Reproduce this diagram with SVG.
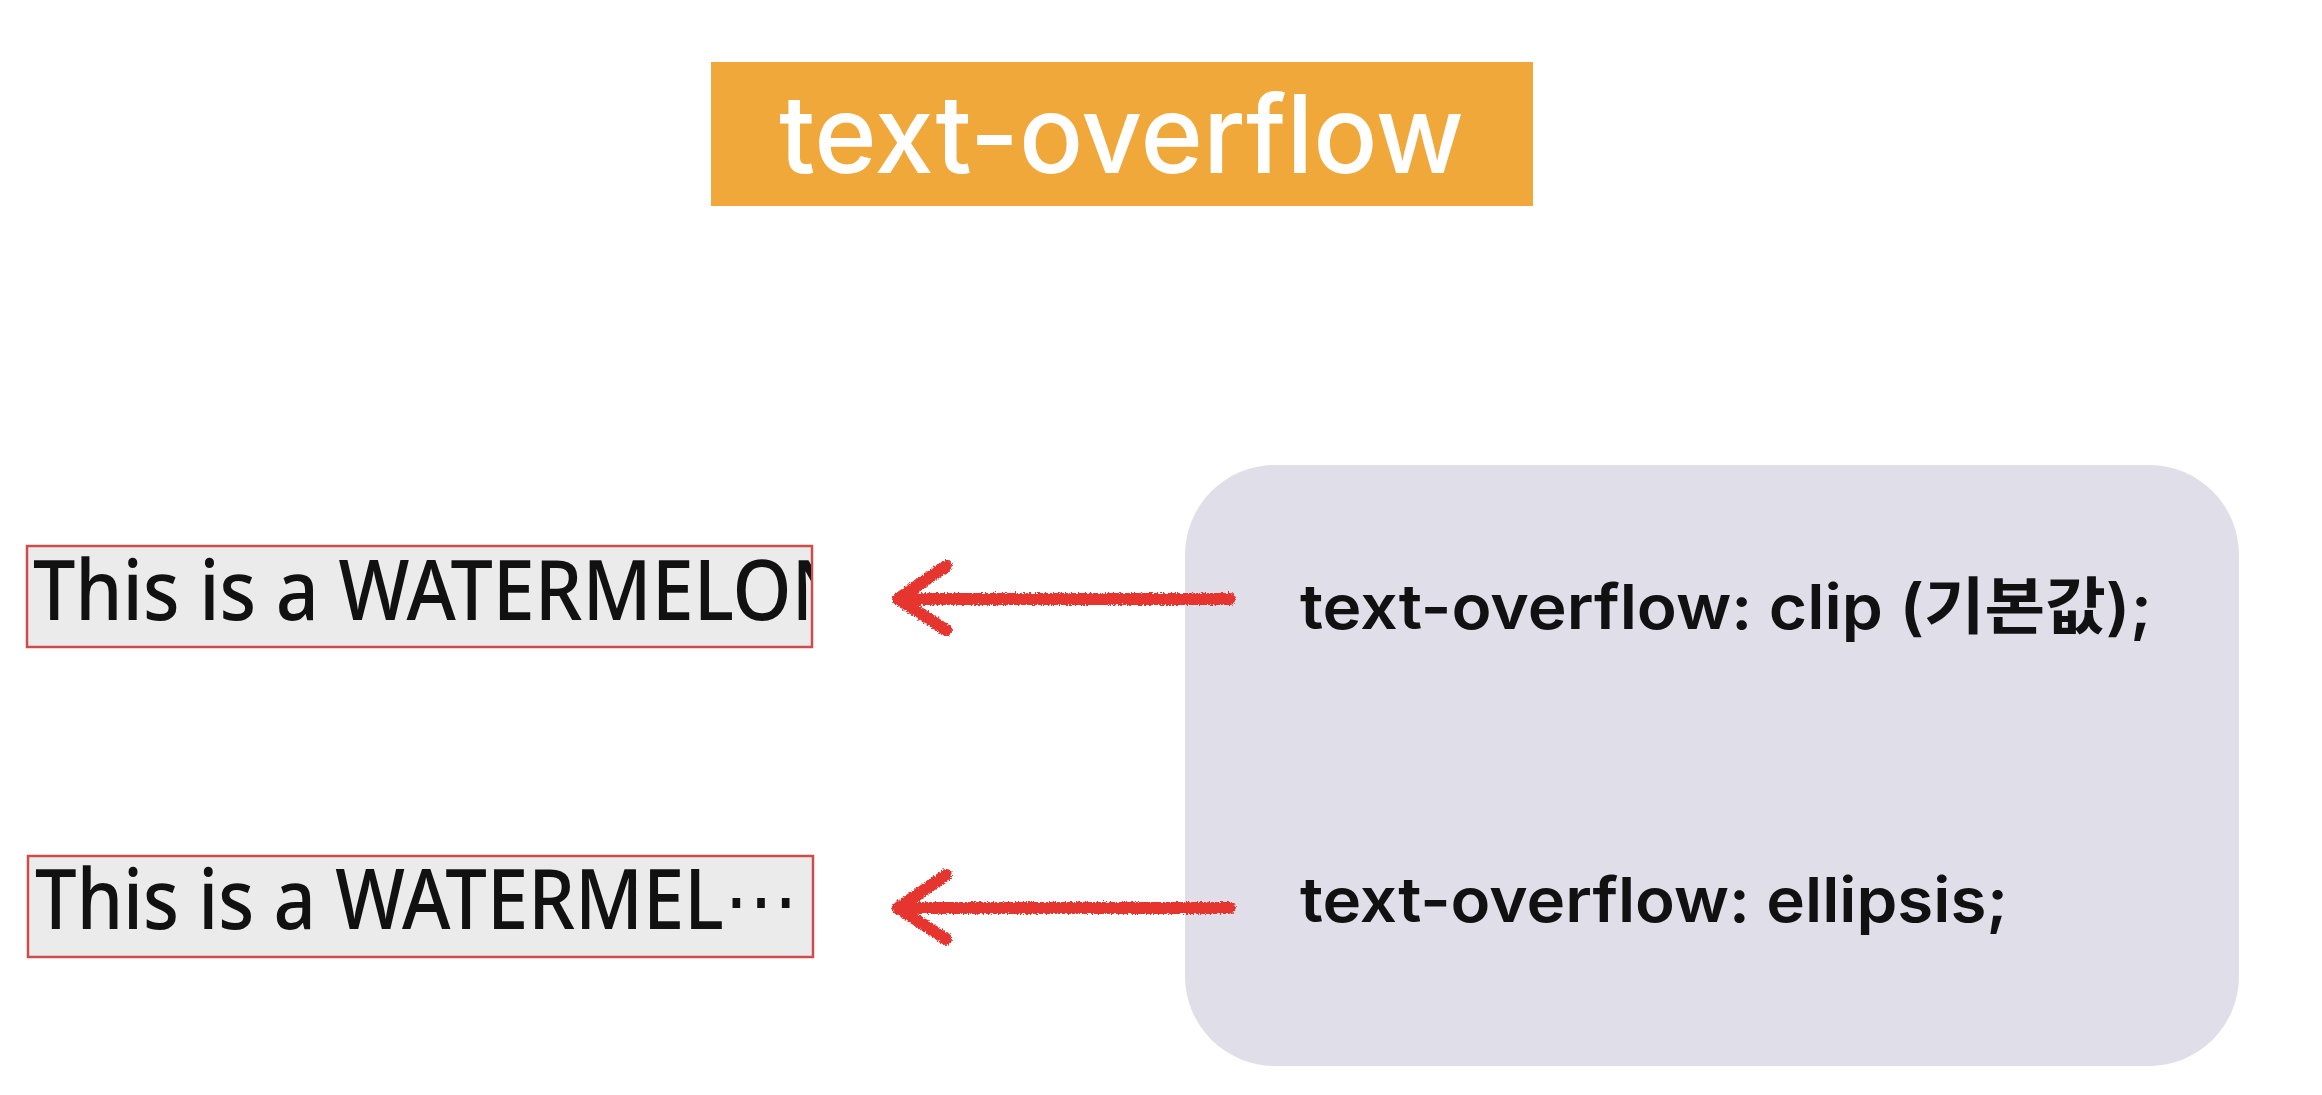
<svg xmlns="http://www.w3.org/2000/svg" width="2322" height="1095" viewBox="0 0 2322 1095">
  <style>
    .title { font-family: Inter, "Noto Sans", sans-serif; font-weight: 500; font-size: 108px; fill: #ffffff; }
    .demo { font-family: "Noto Sans", "Open Sans", sans-serif; font-weight: 500; font-size: 83px; fill: #111111; }
    .demobox { fill: #ebebeb; stroke: #cf4c4c; stroke-width: 2.5; }
    .code { font-family: Inter, "Noto Sans CJK KR", sans-serif; font-weight: 600; font-size: 62px; fill: #111111; }
    .kr { font-family: "Noto Sans CJK KR", sans-serif; font-weight: 700; }
    .arrow { fill: none; stroke: #e5342f; stroke-width: 12; stroke-linecap: round; stroke-linejoin: round; filter: url(#rough); }
  </style>
  <defs>
    <clipPath id="clip1"><rect x="28" y="547" width="783" height="99"/></clipPath>
    <filter id="rough" x="-10%" y="-50%" width="120%" height="200%">
      <feTurbulence type="fractalNoise" baseFrequency="0.6" numOctaves="2" seed="3" result="n"/>
      <feDisplacementMap in="SourceGraphic" in2="n" scale="5" xChannelSelector="R" yChannelSelector="G"/>
    </filter>
  </defs>
  <rect width="2322" height="1095" fill="#ffffff"/>

  <g id="title">
    <rect x="711" y="62" width="822" height="144" fill="#f1a83b"/>
    <text class="title" x="779" y="173" textLength="685" lengthAdjust="spacingAndGlyphs">text-overflow</text>
  </g>

  <g id="panel">
    <rect x="1185" y="465" width="1054" height="601" rx="90" ry="90" fill="#dfdee9"/>
  </g>

  <g id="clip-demo">
    <rect class="demobox" x="27" y="546" width="785" height="101"/>
    <text class="demo" x="33" y="620" textLength="817" lengthAdjust="spacingAndGlyphs" clip-path="url(#clip1)">This is a WATERMELON</text>
  </g>

  <g id="ellipsis-demo">
    <rect class="demobox" x="28" y="856" width="785" height="101"/>
    <text class="demo" x="35" y="929" textLength="763" lengthAdjust="spacingAndGlyphs">This is a WATERMEL⋯</text>
  </g>

  <g id="clip-label">
    <text class="code" x="1300" y="629" textLength="852" lengthAdjust="spacingAndGlyphs">text-overflow: clip (<tspan class="kr">기본값</tspan>);</text>
  </g>

  <g id="ellipsis-label">
    <text class="code" x="1300" y="922" textLength="708" lengthAdjust="spacingAndGlyphs">text-overflow: ellipsis;</text>
  </g>

  <g id="connectors">
    <path class="arrow" d="M1230 599 L902 599 M946 566 L898 599 L946 630"/>
    <path class="arrow" d="M1230 908 L902 908 M946 875 L898 908 L946 939"/>
  </g>
</svg>
